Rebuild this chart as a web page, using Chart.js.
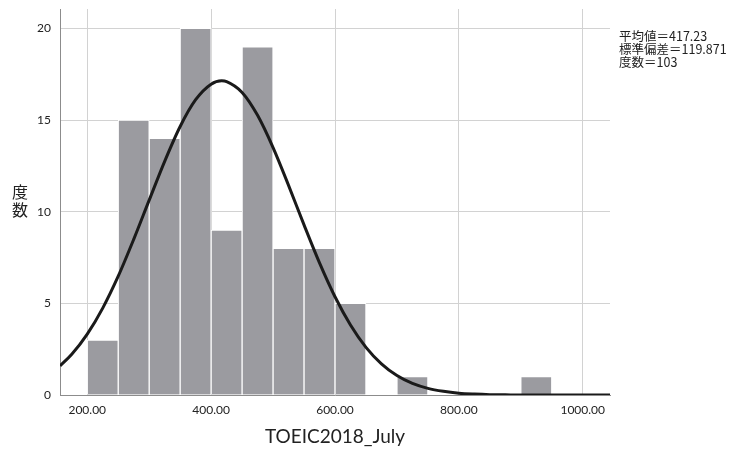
<!DOCTYPE html>
<html>
<head>
<meta charset="utf-8">
<script src="https://cdn.jsdelivr.net/npm/chart.js@4/dist/chart.umd.min.js"></script>
<style>
  html, body { margin: 0; padding: 0; background: #fff; }
  #wrap { width: 732px; height: 449px; }
</style>
</head>
<body>
<div id="wrap"><canvas id="hist"></canvas></div>
<script>
// histogram bins (centres) and counts, bin width 50
const binCenters = [225, 275, 325, 375, 425, 475, 525, 575, 625, 675, 725, 775, 825, 875, 925, 975];
const counts     = [3, 15, 14, 20, 9, 19, 8, 8, 5, 0, 1, 0, 0, 0, 1, 0];

// normal curve
const curveX = [156, 175, 200, 225, 250, 275, 300, 325, 350, 375, 400, 417, 425, 450, 475, 500, 525, 550, 575, 600, 625, 650, 675, 700, 725, 750, 775, 800, 825, 850, 875, 900, 950, 1000, 1044];
const curveY = [1.59, 2.22, 3.32, 4.74, 6.48, 8.49, 10.63, 12.75, 14.65, 16.11, 16.96, 17.14, 17.10, 16.51, 15.26, 13.50, 11.44, 9.28, 7.21, 5.36, 3.82, 2.60, 1.70, 1.06, 0.63, 0.36, 0.20, 0.10, 0.05, 0.02, 0.01, 0, 0, 0, 0];

const xTicks = [200, 400, 600, 800, 1000];
const yTicks = [0, 5, 10, 15, 20];
const statLines = ['平均値＝417.23', '標準偏差＝119.871', '度数＝103'];
const xTitle = 'TOEIC2018_July';
const yTitle = ['度', '数'];

const font = "Lato, 'Noto Sans', sans-serif";
const cjk = "'Noto Sans CJK JP', 'Noto Sans', sans-serif";

// titles and the stats box
const textPlugin = {
  id: 'extraText',
  afterDraw(chart) {
    const ctx = chart.ctx;
    const area = chart.chartArea;
    ctx.save();
    ctx.fillStyle = '#222';
    ctx.textBaseline = 'middle';

    ctx.font = '12.5px ' + cjk;
    ctx.textAlign = 'left';
    statLines.forEach((s, i) => ctx.fillText(s, area.right + 9, 36 + i * 13));

    ctx.font = '16px ' + cjk;
    ctx.textAlign = 'center';
    yTitle.forEach((c, i) => ctx.fillText(c, 20, 192 + i * 18));

    ctx.font = '19px ' + font;
    ctx.fillText(xTitle, (area.left + area.right) / 2, 437);
    ctx.restore();
  }
};

const ctx = document.getElementById('hist').getContext('2d');
//eslint-disable-next-line no-undef
new Chart(ctx, {
  type: 'bar',
  data: {
    datasets: [
      {
        type: 'line',
        data: curveX.map((x, i) => ({ x: x, y: curveY[i] })),
        borderColor: '#1a1a1a',
        borderWidth: 3,
        pointRadius: 0,
        cubicInterpolationMode: 'monotone',
        fill: false,
        order: 0
      },
      {
        type: 'bar',
        data: binCenters.map((x, i) => ({ x: x, y: counts[i] || null })),
        backgroundColor: '#9b9ba0',
        borderColor: '#ffffff',
        borderWidth: 1,
        borderSkipped: 'bottom',
        barPercentage: 1,
        categoryPercentage: 1,
        order: 1
      }
    ]
  },
  options: {
    responsive: true,
    maintainAspectRatio: false,
    animation: false,
    layout: { padding: { left: 0, right: 122, top: 9, bottom: 0 } },
    plugins: {
      legend: { display: false },
      tooltip: { enabled: false }
    },
    scales: {
      x: {
        type: 'linear',
        min: 156,
        max: 1044,
        offset: false,
        afterBuildTicks: (scale) => { scale.ticks = xTicks.map(v => ({ value: v })); },
        afterFit: (scale) => { scale.height = 54; scale.paddingLeft = 0; scale.paddingRight = 0; },
        grid: { color: '#d2d2d2', lineWidth: 1, drawTicks: false, offset: false },
        border: { color: '#8c8c8c', width: 1 },
        ticks: {
          padding: 8,
          color: '#222',
          font: { family: font, size: 12 },
          callback: (v) => Number(v).toFixed(2)
        }
      },
      y: {
        min: 0,
        max: 21.06,
        afterBuildTicks: (scale) => { scale.ticks = yTicks.map(v => ({ value: v })); },
        afterFit: (scale) => { scale.width = 60; scale.paddingTop = 0; scale.paddingBottom = 0; },
        grid: { color: '#d2d2d2', lineWidth: 1, drawTicks: false },
        border: { color: '#8c8c8c', width: 1 },
        ticks: {
          padding: 9,
          color: '#222',
          font: { family: font, size: 12 }
        }
      }
    }
  },
  plugins: [textPlugin]
});
</script>
</body>
</html>
